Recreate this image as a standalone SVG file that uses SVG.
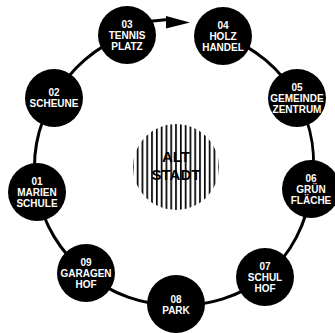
<svg xmlns="http://www.w3.org/2000/svg" width="335" height="333" viewBox="0 0 335 333">
<style>
.node{fill:#000}
.lbl{font-family:"Liberation Sans",Arial,sans-serif;font-weight:bold;font-size:10px;fill:#fff;text-anchor:middle}
.ring{fill:none;stroke:#000;stroke-width:3;stroke-linecap:round}
.center{font-family:"Liberation Sans",Arial,sans-serif;font-weight:bold;font-size:15px;fill:#000;text-anchor:middle}
</style>
<defs>
<pattern id="hatch" patternUnits="userSpaceOnUse" x="175.15" y="0" width="4.8" height="10">
<rect x="0" y="0" width="1.7" height="10" fill="#000"/>
</pattern>
</defs>
<rect width="335" height="333" fill="#fff"/>
<g id="altstadt">
<circle cx="176" cy="167" r="43" fill="url(#hatch)"/>
<text class="center" x="176" y="162">ALT</text>
<text class="center" x="176" y="180">STADT</text>
</g>
<g id="connectors">
<path class="ring" d="M223,36 A136,136 0 0 1 297,98"/>
<path class="ring" d="M297,98 A136,136 0 0 1 311,189"/>
<path class="ring" d="M311,189 A136,136 0 0 1 265,277"/>
<path class="ring" d="M265,277 A136,136 0 0 1 176,305"/>
<path class="ring" d="M176,305 A136,136 0 0 1 86,273"/>
<path class="ring" d="M86,273 A136,136 0 0 1 37,192"/>
<path class="ring" d="M37,192 A130,130 0 0 1 54,98"/>
<path class="ring" d="M54,98 A136,136 0 0 1 127,35"/>
<line x1="148" y1="21.5" x2="168" y2="19.5" stroke="#000" stroke-width="3"/>
<polygon points="166,16 190,22.5 166,28.5" fill="#000"/>
</g>
<g id="n01"><circle class="node" cx="37" cy="192" r="29"/><text class="lbl" x="37" y="184.6">01</text><text class="lbl" x="37" y="195.6">MARIEN</text><text class="lbl" x="37" y="206.6">SCHULE</text></g>
<g id="n02"><circle class="node" cx="54" cy="98" r="29"/><text class="lbl" x="54" y="96.1">02</text><text class="lbl" x="54" y="107.1">SCHEUNE</text></g>
<g id="n03"><circle class="node" cx="127" cy="35" r="29"/><text class="lbl" x="127" y="27.6">03</text><text class="lbl" x="127" y="38.6">TENNIS</text><text class="lbl" x="127" y="49.6">PLATZ</text></g>
<g id="n04"><circle class="node" cx="223" cy="36" r="29"/><text class="lbl" x="223" y="28.6">04</text><text class="lbl" x="223" y="39.6">HOLZ</text><text class="lbl" x="223" y="50.6">HANDEL</text></g>
<g id="n05"><circle class="node" cx="297" cy="98" r="29"/><text class="lbl" x="297" y="90.6">05</text><text class="lbl" x="297" y="101.6">GEMEINDE</text><text class="lbl" x="297" y="112.6">ZENTRUM</text></g>
<g id="n06"><circle class="node" cx="311" cy="189" r="29"/><text class="lbl" x="311" y="181.6">06</text><text class="lbl" x="311" y="192.6">GRÜN</text><text class="lbl" x="311" y="203.6">FLÄCHE</text></g>
<g id="n07"><circle class="node" cx="265" cy="277" r="29"/><text class="lbl" x="265" y="269.6">07</text><text class="lbl" x="265" y="280.6">SCHUL</text><text class="lbl" x="265" y="291.6">HOF</text></g>
<g id="n08"><circle class="node" cx="176" cy="304" r="29"/><text class="lbl" x="176" y="302.6">08</text><text class="lbl" x="176" y="314.1">PARK</text></g>
<g id="n09"><circle class="node" cx="86" cy="273" r="29"/><text class="lbl" x="86" y="265.6">09</text><text class="lbl" x="86" y="276.6">GARAGEN</text><text class="lbl" x="86" y="287.6">HOF</text></g>
</svg>
